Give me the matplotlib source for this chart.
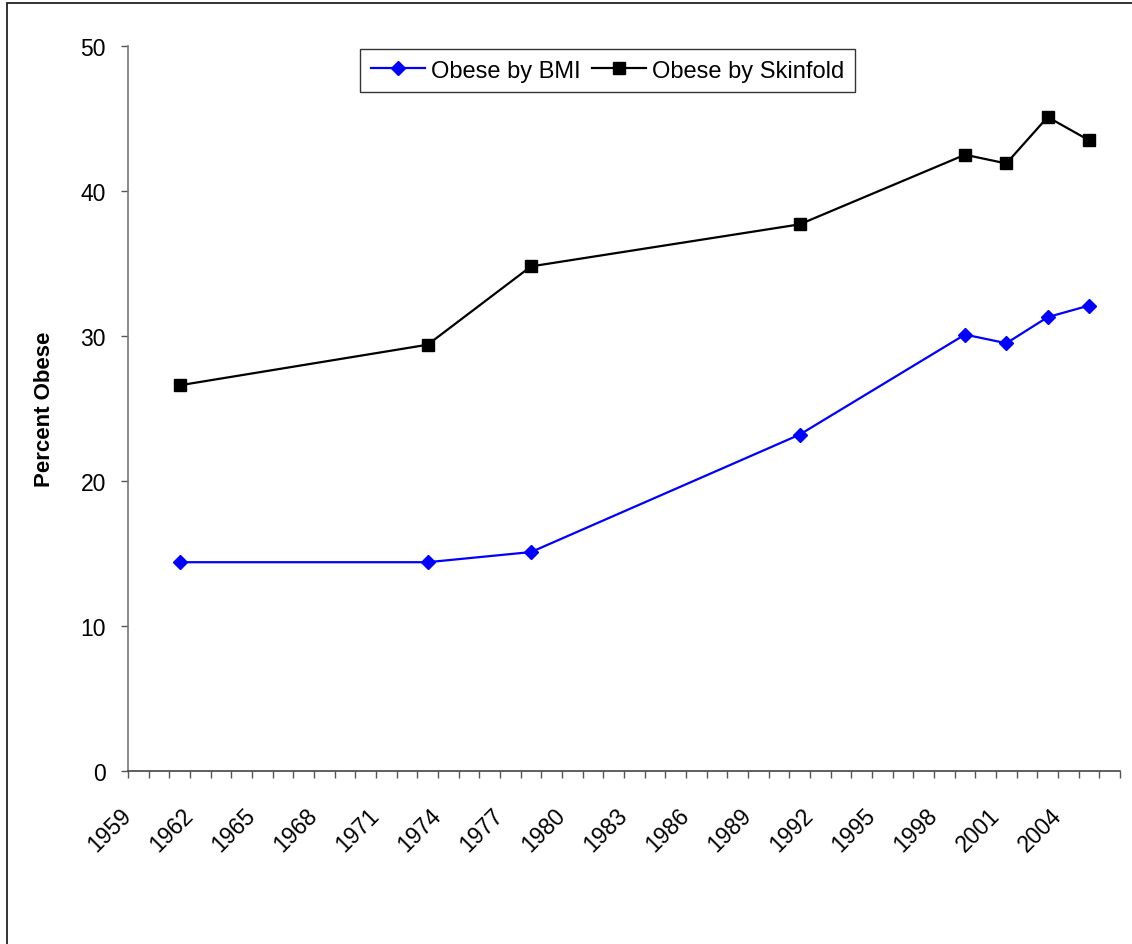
import matplotlib
matplotlib.use('Agg')
import matplotlib.pyplot as plt
import matplotlib.transforms as mtransforms
from matplotlib.patches import Rectangle

plt.rcParams['font.family'] = ['Liberation Sans', 'DejaVu Sans']

# category axis: one category per year
first_year = 1959
last_year = 2006
label_step = 3

years = [1961, 1973, 1978, 1991, 1999, 2001, 2003, 2005]
obese_bmi = [14.4, 14.4, 15.1, 23.2, 30.1, 29.5, 31.3, 32.1]
obese_skinfold = [26.6, 29.4, 34.8, 37.7, 42.5, 41.9, 45.1, 43.5]

n_cat = last_year - first_year + 1
xpos = [y - first_year + 0.5 for y in years]

fig = plt.figure(figsize=(11.32, 9.45), dpi=100)
ax = fig.add_axes([128/1132, 1 - 772/945, 992/1132, 725/945])

ax.plot(xpos, obese_bmi, color='#0000FF', lw=1.6, marker='D', markersize=7.5,
        label='Obese by BMI')
ax.plot(xpos, obese_skinfold, color='black', lw=1.6, marker='s', markersize=8.5,
        label='Obese by Skinfold')

ax.set_xlim(0, n_cat)
ax.set_ylim(0, 50)
ax.set_yticks(range(0, 51, 10))

ticks = list(range(n_cat + 1))
labels = [str(first_year + t) if t % label_step == 0 and t < n_cat else '' for t in ticks]
ax.set_xticks(ticks)
ax.set_xticklabels(labels, rotation=45, ha='right', va='center',
                   rotation_mode='anchor', fontsize=16.5)
off = mtransforms.ScaledTranslation(-8/100, 0, fig.dpi_scale_trans)
for lab in ax.get_xticklabels():
    lab.set_transform(lab.get_transform() + off)

ax.tick_params(axis='x', direction='out', length=5, width=1, color='#555555', pad=24)
ax.tick_params(axis='y', direction='out', length=5, width=1, color='#555555',
               labelsize=16.5, pad=11)

for s in ['top', 'right']:
    ax.spines[s].set_visible(False)
ax.spines['left'].set_color('#777777')
ax.spines['bottom'].set_color('#444444')
ax.spines['left'].set_linewidth(1.2)
ax.spines['bottom'].set_linewidth(1.2)

ax.set_ylabel('Percent Obese', fontsize=16, fontweight='bold')
ax.yaxis.set_label_coords(-0.0736, 0.5)

leg = ax.legend(loc='upper center', bbox_to_anchor=(0.4834, 0.996), ncol=2,
                fontsize=17, frameon=True, fancybox=False, handlelength=2.3,
                handletextpad=0.25, columnspacing=0.45, borderpad=0.45,
                borderaxespad=0)
leg.get_frame().set_edgecolor('black')
leg.get_frame().set_linewidth(1)

# chart area border (only left and top edges fall inside the image)
fig.patches.append(Rectangle((7/1132, -0.2), 1.3, 0.2 + 941/945, fill=False,
                             transform=fig.transFigure, ec='#222222', lw=1.3))

fig.savefig('out.png', dpi=100)
